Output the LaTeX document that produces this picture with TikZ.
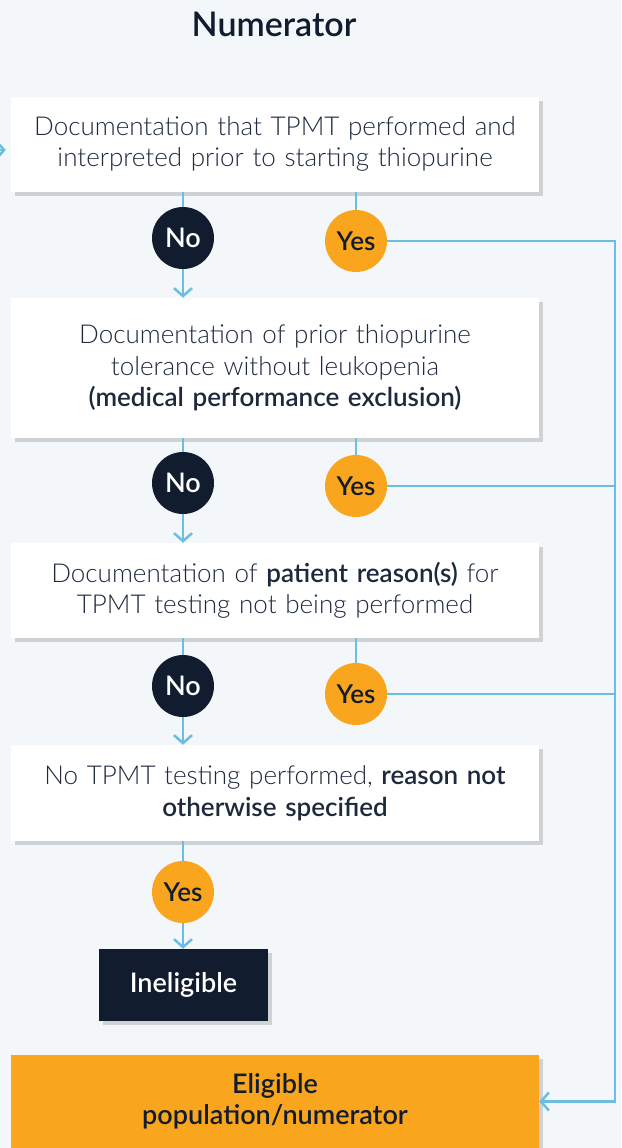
\documentclass[tikz,border=0pt]{standalone}
\usepackage{fontspec}
\setmainfont{Lato Light}[BoldFont=Lato Semibold]
\newfontfamily\titlefont{Lato Semibold}
\usepackage{tikz}
\usetikzlibrary{arrows.meta,positioning,shadows,calc}
\usepackage{xcolor}
\definecolor{bgcol}{HTML}{F3F7FA}
\definecolor{navy}{HTML}{121C2F}
\definecolor{textcol}{HTML}{1E2A3C}
\definecolor{amber}{HTML}{F9A61E}
\definecolor{lineblue}{HTML}{6CBDE2}

\begin{document}
\begin{tikzpicture}[
    x=1pt, y=-1pt,
    font=\fontsize{26}{31.5}\selectfont,
    box/.style={rectangle, fill=white, minimum width=528pt, text width=520pt, align=center, inner sep=0pt, text=textcol, drop shadow={shadow xshift=4pt, shadow yshift=-4pt, opacity=0.15, fill=black}},
    nocirc/.style={circle, fill=navy, text=white, minimum size=62pt, inner sep=0pt, font=\fontsize{27}{30}\selectfont\bfseries},
    yescirc/.style={circle, fill=amber, text=navy, minimum size=62pt, inner sep=0pt, font=\fontsize{26}{30}\selectfont\bfseries},
    endbox/.style={rectangle, inner sep=0pt, align=center, font=\fontsize{27}{31.5}\selectfont\bfseries, drop shadow={shadow xshift=4pt, shadow yshift=-4pt, opacity=0.15, fill=black}},
    link/.style={line width=2.5pt, draw=lineblue},
    arrow/.style={link, -{Straight Barb[length=8pt, width=18pt, line width=2.5pt]}}
]
\useasboundingbox (0,0) rectangle (621,1148);
\fill[bgcol] (0,0) rectangle (621,1148);

% Nodes
\node[font=\fontsize{34}{38}\selectfont\titlefont, text=navy] (title) at (274,24) {Numerator};
\node[box, minimum height=95pt] (tpmt) at (275,144) {Documentation that TPMT performed and\\interpreted prior to starting thiopurine};
\node[box, minimum height=140pt] (tolerance) at (275,368) {Documentation of prior thiopurine\\tolerance without leukopenia\\\textbf{(medical performance exclusion)}};
\node[box, minimum height=95pt] (patient) at (275,590.5) {Documentation of \textbf{patient reason(s)} for\\TPMT testing not being performed};
\node[box, minimum height=96pt] (unspec) at (275,793) {No TPMT testing performed, \textbf{reason not}\\\textbf{otherwise specified}};
\node[endbox, fill=navy, text=white, minimum width=169pt, minimum height=72pt] (inelig) at (183.5,985) {Ineligible};
\node[endbox, fill=amber, text=navy, minimum width=528pt, minimum height=93pt] (elig) at (275,1101.5) {Eligible\\population/numerator};

\node[nocirc] (no1) at (183,238) {No};
\node[yescirc] (yes1) at (356,241) {Yes};
\node[nocirc] (no2) at (183,483) {No};
\node[yescirc] (yes2) at (356,486) {Yes};
\node[nocirc] (no3) at (183,686) {No};
\node[yescirc] (yes3) at (356,694) {Yes};
\node[yescirc] (yes4) at (183,892) {Yes};

\coordinate (entry) at (-10,150);
\coordinate (bus) at (615,241);

% Arrows
\draw[arrow, shorten >=5pt] (entry) -- (entry -| tpmt.west);
\draw[link] (tpmt.south -| no1) -- (no1);
\draw[arrow] (no1) -- (no1 |- tolerance.north);
\draw[link] (tpmt.south -| yes1) -- (yes1);
\draw[link] (tolerance.south -| no2) -- (no2);
\draw[arrow] (no2) -- (no2 |- patient.north);
\draw[link] (tolerance.south -| yes2) -- (yes2);
\draw[link] (patient.south -| no3) -- (no3);
\draw[arrow] (no3) -- (no3 |- unspec.north);
\draw[link] (patient.south -| yes3) -- (yes3);
\draw[link] (unspec.south -| yes4) -- (yes4);
\draw[arrow] (yes4) -- (yes4 |- inelig.north);
\draw[link] (yes2) -- (yes2 -| bus);
\draw[link] (yes3) -- (yes3 -| bus);
\draw[arrow] (yes1) -- (bus) |- (elig.east);

\end{tikzpicture}
\end{document}
